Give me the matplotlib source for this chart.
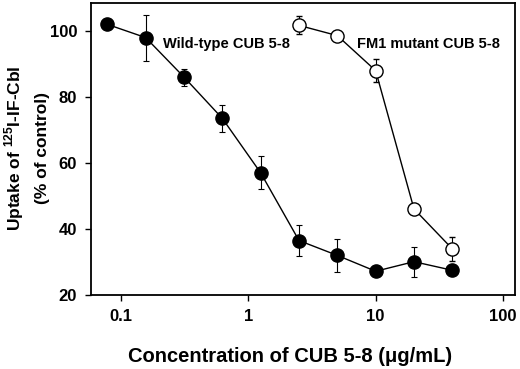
import numpy as np
import matplotlib
matplotlib.use("Agg")
import matplotlib.pyplot as plt

plt.rcParams["font.family"] = ["Liberation Sans", "DejaVu Sans"]
plt.rcParams["font.weight"] = "bold"
plt.rcParams["mathtext.fontset"] = "custom"
plt.rcParams["mathtext.bf"] = "Liberation Sans:bold"
plt.rcParams["mathtext.rm"] = "Liberation Sans:bold"

# ── Data ─────────────────────────────────────────────────────────────────────
wt_conc = [0.078, 0.156, 0.3125, 0.625, 1.25, 2.5, 5, 10, 20, 40]
wt_uptake = [102.0, 98.0, 86.0, 73.5, 57.0, 36.5, 32.0, 27.2, 30.1, 27.5]
wt_err = [0, 7.0, 2.6, 4.0, 5.0, 4.8, 5.0, 0, 4.5, 0]

fm1_conc = [2.5, 5, 10, 20, 40]
fm1_uptake = [101.7, 98.6, 88.0, 46.1, 34.0]
fm1_err = [2.7, 0, 3.4, 0, 3.6]

yticks = [20, 40, 60, 80, 100]
xticks = [0.1, 1, 10, 100]
xticklabels = ["0.1", "1", "10", "100"]

# ── Plot ─────────────────────────────────────────────────────────────────────
W, H = 520, 369
fig = plt.figure(figsize=(W / 100, H / 100), dpi=100)
ax = fig.add_axes([0.175, 0.2005, 0.815, 0.7915])

ax.errorbar(wt_conc, wt_uptake, yerr=wt_err, fmt="o-", color="black",
            mfc="black", mec="black", ms=9.5, lw=1.0, elinewidth=0.8,
            capsize=2.5, capthick=0.8, zorder=3)
ax.errorbar(fm1_conc, fm1_uptake, yerr=fm1_err, fmt="o-", color="black",
            mfc="white", mec="black", ms=9.5, mew=1.0, lw=1.0,
            elinewidth=0.8, capsize=2.5, capthick=0.8, zorder=3)

ax.text(0.213, 96, "Wild-type CUB 5-8", fontsize=10.5, fontweight="bold",
        va="center", ha="left")
ax.text(7.2, 96, "FM1 mutant CUB 5-8", fontsize=10.5, fontweight="bold",
        va="center", ha="left")

ax.set_xscale("log")
ax.set_xlim(0.058, 124)
ax.set_ylim(20, 108.5)
ax.set_xticks(xticks)
ax.set_xticklabels(xticklabels)
ax.xaxis.set_minor_locator(matplotlib.ticker.NullLocator())
ax.set_yticks(yticks)

for s in ax.spines.values():
    s.set_linewidth(1.3)
ax.tick_params(direction="out", length=4, width=1.0, labelsize=12, pad=6)
for lab in ax.get_xticklabels() + ax.get_yticklabels():
    lab.set_fontweight("bold")

# axis titles placed in figure pixels (reference layout)
fig.text(290 / W, 1 - 357 / H, "Concentration of CUB 5-8 (\u03bcg/mL)",
         fontsize=14.5, fontweight="bold", ha="center", va="center")
fig.text(14 / W, 1 - 148 / H, "Uptake of $^{125}$I-IF-Cbl",
         fontsize=12.5, fontweight="bold", ha="center", va="center",
         rotation=90)
fig.text(42 / W, 1 - 148 / H, "(% of control)",
         fontsize=12.5, fontweight="bold", ha="center", va="center",
         rotation=90)

fig.savefig("out.png", dpi=100)
